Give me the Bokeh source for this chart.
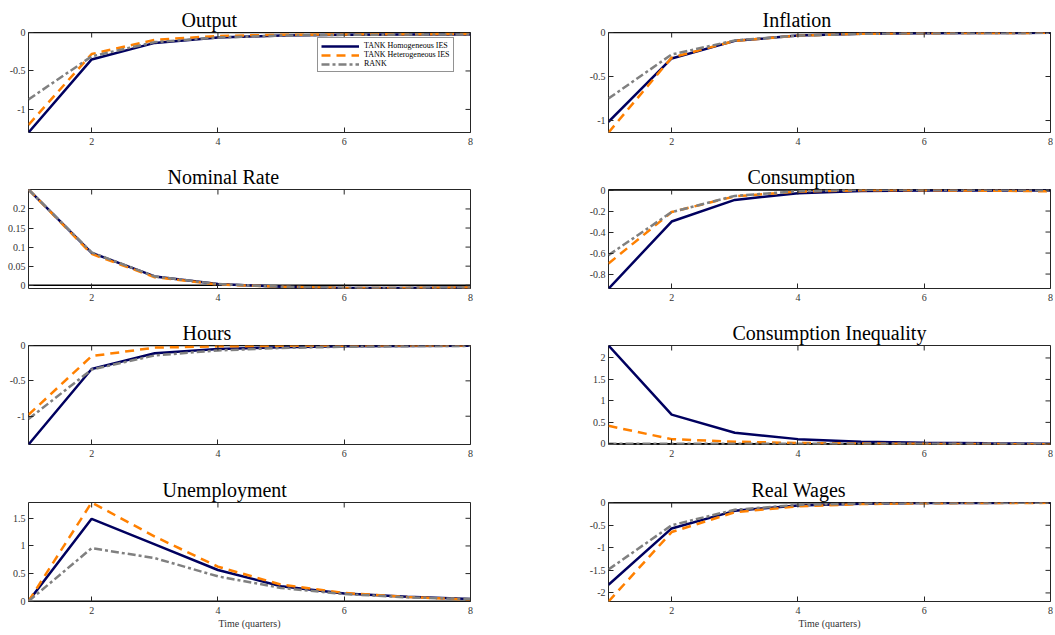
import math
from bokeh.plotting import figure
from bokeh.models import (Range1d, FixedTicker, PrintfTickFormatter,
                          Span, Legend, LegendItem)
from bokeh.layouts import row, column
from bokeh.embed import file_html
from bokeh.resources import INLINE

# ---------------- data ----------------
t = [1, 2, 3, 4, 5, 6, 7, 8]
x_ticks = [2, 4, 6, 8]
x_range = (1, 8)

labels = ["TANK Homogeneous IES", "TANK Heterogeneous IES", "RANK"]

output_homog = [-1.30, -0.35, -0.135, -0.065, -0.040, -0.030, -0.027, -0.025]
output_heter = [-1.20, -0.28, -0.095, -0.045, -0.030, -0.025, -0.022, -0.020]
output_rank = [-0.87, -0.31, -0.125, -0.065, -0.040, -0.030, -0.027, -0.025]
output_yticks = [-1, -0.5, 0]
output_yrange = (-1.30, 0.0)

infl_homog = [-1.015, -0.295, -0.095, -0.035, -0.015, -0.008, -0.005, -0.004]
infl_heter = [-1.136, -0.285, -0.095, -0.035, -0.015, -0.008, -0.005, -0.004]
infl_rank = [-0.75, -0.25, -0.090, -0.035, -0.015, -0.008, -0.005, -0.004]
infl_yticks = [-1, -0.5, 0]
infl_yrange = (-1.136, 0.0)

rate_homog = [0.251, 0.085, 0.023, 0.003, -0.004, -0.007, -0.007, -0.006]
rate_heter = [0.251, 0.082, 0.021, 0.002, -0.004, -0.007, -0.007, -0.006]
rate_rank = [0.251, 0.086, 0.023, 0.003, -0.004, -0.007, -0.007, -0.006]
rate_yticks = [0, 0.05, 0.1, 0.15, 0.2]
rate_yrange = (-0.0086, 0.251)

cons_homog = [-0.94, -0.30, -0.094, -0.030, -0.010, -0.004, -0.004, -0.005]
cons_heter = [-0.70, -0.21, -0.060, -0.015, -0.003, -0.002, -0.006, -0.012]
cons_rank = [-0.62, -0.21, -0.056, -0.012, 0.002, 0.004, 0.002, -0.002]
cons_yticks = [-0.8, -0.6, -0.4, -0.2, 0]
cons_yrange = (-0.9375, 0.005)

hours_homog = [-1.40, -0.333, -0.110, -0.050, -0.025, -0.012, -0.006, -0.003]
hours_heter = [-0.98, -0.150, -0.030, -0.012, -0.005, -0.002, 0.0, 0.0]
hours_rank = [-1.04, -0.340, -0.140, -0.070, -0.035, -0.018, -0.009, -0.005]
hours_yticks = [-1, -0.5, 0]
hours_yrange = (-1.40, 0.0)

ineq_homog = [2.29, 0.68, 0.26, 0.11, 0.05, 0.025, 0.012, 0.005]
ineq_heter = [0.42, 0.11, 0.05, 0.02, 0.008, 0.0, -0.005, -0.010]
ineq_rank = [0.0, 0.0, 0.0, 0.0, 0.0, 0.0, 0.0, 0.0]
ineq_yticks = [0, 0.5, 1, 1.5, 2]
ineq_yrange = (-0.015, 2.29)

unemp_homog = [0.0, 1.49, 1.03, 0.565, 0.27, 0.14, 0.08, 0.04]
unemp_heter = [0.0, 1.786, 1.17, 0.625, 0.30, 0.15, 0.075, 0.03]
unemp_rank = [0.0, 0.96, 0.78, 0.45, 0.24, 0.13, 0.07, 0.04]
unemp_yticks = [0, 0.5, 1, 1.5]
unemp_yrange = (-0.005, 1.786)

wage_homog = [-1.82, -0.57, -0.180, -0.060, -0.020, -0.008, -0.004, -0.002]
wage_heter = [-2.19, -0.65, -0.210, -0.080, -0.030, -0.012, -0.006, -0.003]
wage_rank = [-1.48, -0.50, -0.155, -0.050, -0.015, -0.005, -0.002, -0.001]
wage_yticks = [-2, -1.5, -1, -0.5, 0]
wage_yrange = (-2.19, 0.005)

# ---------------- style ----------------
FONT = "Liberation Serif"
NAVY = "#00005f"
ORANGE = "#ff8000"
GRAY = "#808080"
AXC = "#262626"
LW = 2.5


def make_panel(title, title_offset, homog, heter, rank, yticks, yrange,
               left_col, row_idx, legend=False):
    if left_col:
        width, mbl, mbr = 480, 28, 10
    else:
        width, mbl, mbr = 573, 128, 3
    mbt = 32 if row_idx == 0 else 27
    mbb = {0: 29, 1: 29, 2: 30, 3: 30}[row_idx]
    height = mbt + 100 + mbb

    p = figure(width=width, height=height, output_backend="svg", toolbar_location=None,
               x_range=Range1d(*x_range), y_range=Range1d(*yrange),
               min_border_left=mbl, min_border_right=mbr,
               min_border_top=mbt, min_border_bottom=mbb,
               title=title)
    p.title.text_font = FONT
    p.title.text_font_size = "20px"
    p.title.text_font_style = "normal"
    p.title.text_color = "black"
    p.title.align = "left"
    p.title.offset = title_offset
    p.title.standoff = 4
    p.grid.visible = False
    p.outline_line_color = AXC
    p.outline_line_width = 1
    p.background_fill_color = "white"
    p.border_fill_color = "white"

    for ax in p.xaxis + p.yaxis:
        ax.axis_line_color = None
        ax.major_tick_in = 5
        ax.major_tick_out = 0
        ax.minor_tick_line_color = None
        ax.major_tick_line_color = AXC
        ax.major_label_text_font = FONT
        ax.major_label_text_font_size = "10px"
        ax.major_label_text_color = "#333333"
        ax.formatter = PrintfTickFormatter(format="%g")
    p.xaxis.ticker = FixedTicker(ticks=x_ticks)
    p.yaxis.ticker = FixedTicker(ticks=yticks)
    p.xaxis.major_label_standoff = 5
    p.yaxis.major_label_standoff = 3
    if row_idx == 3:
        p.xaxis.axis_label = "Time (quarters)"
        p.xaxis.axis_label_text_font = FONT
        p.xaxis.axis_label_text_font_size = "10px"
        p.xaxis.axis_label_text_font_style = "normal"
        p.xaxis.axis_label_text_color = "#333333"
        p.xaxis.axis_label_standoff = 1

    p.add_layout(Span(location=0, dimension="width", line_color="black",
                      line_width=1.5, level="underlay"))

    r1 = p.line(t, homog, line_color=NAVY, line_width=LW)
    r2 = p.line(t, heter, line_color=ORANGE, line_width=LW, line_dash="9 6")
    r3 = p.line(t, rank, line_color=GRAY, line_width=LW, line_dash="8 3 3 3")

    # mirrored tick marks on the right and top edges (half of each dash is clipped)
    p.scatter([x_range[1]] * len(yticks), yticks, marker="dash", size=10,
              line_color=AXC, line_width=1)
    p.scatter(x_ticks, [yrange[1]] * len(x_ticks), marker="dash", size=10,
              angle=math.pi / 2, line_color=AXC, line_width=1)

    if legend:
        lg = Legend(items=[LegendItem(label=labels[0], renderers=[r1]),
                           LegendItem(label=labels[1], renderers=[r2]),
                           LegendItem(label=labels[2], renderers=[r3])],
                    location=(289, 60))
        lg.label_text_font = FONT
        lg.label_text_font_size = "8px"
        lg.label_text_color = "black"
        lg.glyph_width = 38
        lg.glyph_height = 8
        lg.label_height = 8
        lg.label_standoff = 5
        lg.padding = 3
        lg.spacing = 0
        lg.margin = 0
        lg.border_line_color = AXC
        lg.border_line_width = 1
        lg.background_fill_color = "white"
        lg.background_fill_alpha = 1
        p.add_layout(lg)
    return p


p1 = make_panel("Output", 153, output_homog, output_heter, output_rank,
                output_yticks, output_yrange, True, 0, legend=True)
p2 = make_panel("Inflation", 154, infl_homog, infl_heter, infl_rank,
                infl_yticks, infl_yrange, False, 0)
p3 = make_panel("Nominal Rate", 139, rate_homog, rate_heter, rate_rank,
                rate_yticks, rate_yrange, True, 1)
p4 = make_panel("Consumption", 139, cons_homog, cons_heter, cons_rank,
                cons_yticks, cons_yrange, False, 1)
p5 = make_panel("Hours", 154, hours_homog, hours_heter, hours_rank,
                hours_yticks, hours_yrange, True, 2)
p6 = make_panel("Consumption Inequality", 124, ineq_homog, ineq_heter, ineq_rank,
                ineq_yticks, ineq_yrange, False, 2)
p7 = make_panel("Unemployment", 134, unemp_homog, unemp_heter, unemp_rank,
                unemp_yticks, unemp_yrange, True, 3)
p8 = make_panel("Real Wages", 143, wage_homog, wage_heter, wage_rank,
                wage_yticks, wage_yrange, False, 3)

layout = column(row(p1, p2), row(p3, p4), row(p5, p6), row(p7, p8))

open("out.html", "w").write(file_html(layout, INLINE))
